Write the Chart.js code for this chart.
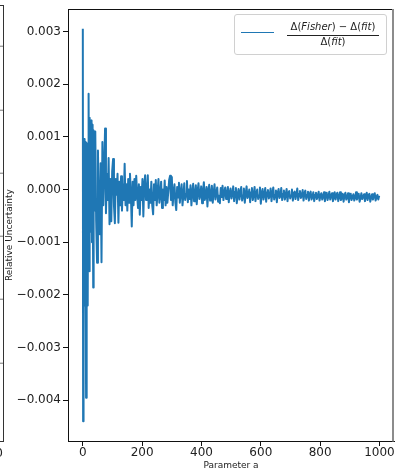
<!DOCTYPE html>
<html>
<head>
<meta charset="utf-8">
<script src="https://cdn.jsdelivr.net/npm/chart.js@4/dist/chart.umd.min.js"></script>
<style>
  body { margin: 0; background: #fff; }
  #wrap { position: relative; width: 395px; height: 470px; overflow: hidden; font-family: 'DejaVu Sans', sans-serif; color: #222; }
  #relChart { position: absolute; left: 0; top: 0; }
  /* right edge of the neighbouring subplot, cut off by the crop */
  #prevAxes { position: absolute; left: 0; top: 5px; width: 3px; height: 435px;
    border-right: 1px solid #333; border-top: 1px solid #333; border-bottom: 1px solid #333;
    background: repeating-linear-gradient(#fff 0 62.3px, #777 62.3px 63.3px); background-position: 0 -22.3px; }
  #prevTick { position: absolute; right: 392px; top: 446px; font-size: 12px; }
  #legend { position: absolute; left: 234px; top: 14px; width: 151px; height: 39px;
    border: 1px solid #d0d0d0; border-radius: 3px; background: rgba(255,255,255,0.8); }
  #legend .swatch { position: absolute; left: 6px; top: 17px; width: 33px; border-top: 1.6px solid #1f77b4; }
  #legend .num, #legend .den { position: absolute; left: 52px; width: 92px; text-align: center;
    font-size: 10px; line-height: 12px; white-space: nowrap; }
  #legend .num { top: 6px; }
  #legend .bar { position: absolute; left: 52px; top: 19.5px; width: 92px; border-top: 1px solid #222; }
  #legend .den { top: 21px; }
</style>
</head>
<body>
<div id="wrap">
  <canvas id="relChart" width="395" height="470"></canvas>
  <div id="prevAxes"></div>
  <span id="prevTick">1000</span>
  <div id="legend">
    <span class="swatch"></span>
    <div class="num" id="legNum"></div>
    <span class="bar"></span>
    <div class="den" id="legDen"></div>
  </div>
</div>
<script>
// relative uncertainty, in units of 1e-4
// parameter a = 0..39 (every point)
const relUncStart = [
  30.5, -44, -2, -28, 9.6, -22, -6, 4, -22, 9,
  -12, -39.5, -20, 8.8, -22, 2, -9, -22, 6, -4,
  18.2, -12, 5, -15.5, 13.6, -3, 10, -8, 13.1, -6,
  4, -10, 12.3, -2, 7, -18.6, 11.2, -5, 8, -4
];
// parameter a = 42..999, every third point (rows of 10 start at 42, 72, 102, ...)
const relUncRest = [
  11.0, -6, -13.9, 7.4, -4, -8.5, 5, -13.8, 9.0, -3,
  4, 11.6, -4.5, 3, -2, 6, -6.6, 2, -6.0, 3.5,
  5.8, -3, -6.4, 2, -1, 3, -6.3, 1.5, -3, 2.5,
  -4, 1, -2, 4.9, -3, 1, -4, 2, -2.5, 3,
  -1, -7.0, 1.5, -3, 2, -2, 2.6, -1, -3.5, 1,
  -4.8, 0.5, -2, 2, -5.1, 1, 2.7, -2, -1, 2.7,
  -3.5, 0, -2.5, 1.5, -3, -4.7, 1, -2, 1.8, -3,
  -0.5, 2, -2.5, -1, 1.5, -3.5, 0, -2, 1.7, -3,
  0.5, -2.5, -0.5, 1.8, 2.6, -2, 2.4, -3, -0.5, 1,
  -2.5, -3.9, 0.5, -1.5, 1.3, -2.5, -0.5, 1, -3, -1,
  1.2, -2, -0.8, 1.6, -2.4, 0, -1.8, 0.8, -3, -0.6,
  1.1, -2.2, -1, 0.8, -2.8, -0.3, 1.2, -1.8, -1, 0.6,
  -2.6, -0.5, 1.4, -2, -1.2, 0.5, -3.2, -0.2, 0.9, -2.1,
  -1, 0.7, -2.5, -0.6, 1.0, -1.9, -0.8, 0.4, -2.3, -1.2,
  -2.6, 0.3, -1.4, 0.7, -2, -0.5, 0.4, -1.8, -0.9, 0.5,
  -2.4, -0.6, 0.2, -1.7, -0.9, 0.6, -2.2, -0.4, 0.3, -2.6,
  -1, 0.1, -1.9, -0.6, 0.5, -2.1, -1.1, 0.2, -2.5, -0.8,
  0.6, -1.6, -1.2, 0, -2.4, -0.5, 0.3, -2, -1, 0.5,
  -2.2, -0.7, 0, -1.8, -1.1, 0.4, -2.7, -0.6, 0.1, -1.9,
  -0.9, 0.3, -2.3, -0.5, -0.1, -1.7, -1.2, 0.2, -2.2, -0.7,
  0.4, -1.9, -1, -0.2, -2.4, -0.6, 0.1, -1.6, -1.3, 0.3,
  -2, -0.8, -0.2, -1.9, -1, 0.1, -2.2, -0.6, -0.3, -1.7,
  -1.1, 0, -2.1, -0.7, -0.4, -1.8, -0.9, 0.2, -2, -0.8,
  -0.3, -1.6, -1.2, -0.1, -2.1, -0.7, -0.2, -1.8, -1, -0.4,
  -2.1, -0.8, -0.4, -1.9, -1.4, -0.5, -2.2, -1.0, -0.6, -1.8,
  -1.2, -0.4, -2.1, -1.1, -0.7, -1.9, -1.3, -0.5, -2.2, -0.9,
  -0.6, -2.0, -1.2, -0.4, -1.9, -1.1, -0.7, -2.2, -1.4, -0.5,
  -1.9, -1.0, -0.6, -2.2, -1.3, -0.5, -2.0, -1.6, -0.8, -2.3,
  -1.1, -0.6, -1.9, -1.5, -0.7, -2.4, -1.2, -0.8, -2.0, -1.4,
  -0.9, -2.1, -1.5, -0.5, -1.9, -1.2, -0.8, -2.3, -1.6, -0.7,
  -1.8, -1.3, -0.9, -2.2, -1.4, -0.6, -2.0, -1.1, -0.8, -2.3,
  -1.5, -0.9, -1.9, -1.2, -0.7, -2.1, -1.4, -1.0, -1.9, -1.2
];

const xTicks = [0, 200, 400, 600, 800, 1000];
const yTicks = [-0.004, -0.003, -0.002, -0.001, 0, 0.001, 0.002, 0.003];
const yTickLabels = ['\u22120.004', '\u22120.003', '\u22120.002', '\u22120.001', '0.000', '0.001', '0.002', '0.003'];
const seriesLabel = '(\u0394(Fisher) \u2212 \u0394(fit)) / \u0394(fit)';
const legendNum = '\u0394(<i>Fisher</i>) \u2212 \u0394(<i>fit</i>)';
const legendDen = '\u0394(<i>fit</i>)';

// sample grid of parameter a
const paramA = [];
for (let a = 0; a < relUncStart.length; a++) paramA.push(a);
for (let i = 0; i < relUncRest.length; i++) paramA.push(42 + 3 * i);
const relUnc = relUncStart.concat(relUncRest).map(v => v * 1e-4);

const points = paramA.map((a, i) => ({ x: a, y: relUnc[i] }));

const framePlugin = {
  id: 'frame',
  afterDraw(chart) {
    const { ctx, chartArea: a } = chart;
    const l = Math.round(a.left) + 0.5, t = Math.round(a.top) + 0.5;
    const r = Math.round(a.right), b = Math.round(a.bottom);
    ctx.save();
    ctx.strokeStyle = '#111';
    ctx.lineWidth = 1;
    ctx.beginPath();
    ctx.moveTo(r - 1, t); ctx.lineTo(l, t); ctx.lineTo(l, b);
    ctx.stroke();
    // right spine shows as a soft grey edge in the crop
    ctx.strokeStyle = '#8c8c8c';
    ctx.lineWidth = 2;
    ctx.beginPath();
    ctx.moveTo(r - 1, t - 0.5); ctx.lineTo(r - 1, b + 0.5);
    ctx.stroke();
    ctx.restore();
  }
};

const tickFont = { family: 'DejaVu Sans', size: 12 };

new Chart(document.getElementById('relChart'), {
  type: 'line',
  data: {
    datasets: [{
      label: seriesLabel,
      data: points,
      borderColor: '#1f77b4',
      borderWidth: 2,
      borderJoinStyle: 'round',
      pointRadius: 0,
      tension: 0,
      fill: false
    }]
  },
  options: {
    responsive: false,
    animation: false,
    devicePixelRatio: 1,
    layout: { padding: { top: 5, right: 1, left: 0, bottom: 0 } },
    plugins: { legend: { display: false }, tooltip: { enabled: false } },
    scales: {
      x: {
        type: 'linear', min: -49.95, max: 1048.95,
        afterBuildTicks: s => { s.ticks = xTicks.map(value => ({ value })); },
        afterFit: s => { s.height = 29; },
        grid: { drawOnChartArea: false, tickLength: 5, tickColor: '#111' },
        border: { color: '#111', width: 1 },
        ticks: { color: '#222', font: tickFont, padding: 0, maxRotation: 0, autoSkip: false, callback: v => String(v) },
        title: { display: true, text: 'Parameter a', color: '#222', font: { family: 'DejaVu Sans', size: 9, lineHeight: 1 }, padding: 0 }
      },
      y: {
        type: 'linear', min: -0.0047725, max: 0.0034225,
        afterBuildTicks: s => { s.ticks = yTicks.map(value => ({ value })); },
        afterFit: s => { s.width = 68; },
        grid: { drawOnChartArea: false, tickLength: 5, tickColor: '#111' },
        border: { color: '#111', width: 1 },
        ticks: { color: '#222', font: tickFont, padding: 2, autoSkip: false, callback: v => yTickLabels[yTicks.indexOf(v)] },
        // trailing spaces nudge the rotated label down to where the reference has it
        title: { display: true, text: 'Relative Uncertainty       ', color: '#222', font: { family: 'DejaVu Sans', size: 9, lineHeight: 1.2 }, padding: { top: 4.6, bottom: 0 } }
      }
    }
  },
  plugins: [framePlugin]
});

document.getElementById('legNum').innerHTML = legendNum;
document.getElementById('legDen').innerHTML = legendDen;
</script>
</body>
</html>
